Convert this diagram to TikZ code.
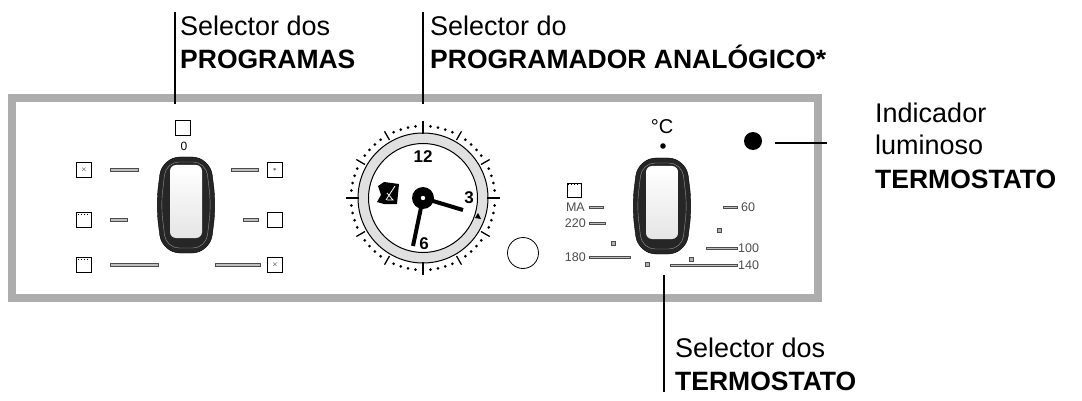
\documentclass[tikz,border=0pt]{standalone}
\usepackage{fontspec}
\setmainfont{Liberation Sans}
\usetikzlibrary{calc}
\begin{document}
\begin{tikzpicture}[x=1pt,y=-1pt,
  lbl/.style={anchor=base west,inner sep=0pt,font=\fontsize{27}{30}\selectfont},
  lblb/.style={lbl,font=\fontsize{26.5}{30}\selectfont\bfseries},
  lead/.style={line width=1.2pt},
  bar/.style={draw=black!70,fill=black!25,line width=0.6pt},
  ico/.style={draw=black,line width=0.8pt,minimum size=15pt,inner sep=0pt},
  sm/.style={font=\fontsize{12.5}{14}\selectfont,text=black!70,inner sep=1pt},
  sq/.style={draw=black!70,fill=black!30,minimum size=4pt,inner sep=0pt}]
\useasboundingbox (0,0) rectangle (1082,401);
% panel
\draw[line width=8pt,draw=black!32] (12,98) rectangle (818,298);
% ---------- left knob ----------
\filldraw[fill=black!85,draw=black,rounded corners=18pt] (162,157) -- (210,157) -- (216,205) -- (210,253) -- (162,253) -- (156,205) -- cycle;
\draw[white!60!black,rounded corners=13pt] (166,162) -- (206,162) -- (211,205) -- (206,248) -- (166,248) -- (161,205) -- cycle;
\shade[top color=white,bottom color=black!10,rounded corners=6pt] (170,165) rectangle (202,238);
\node[draw,minimum size=15pt,inner sep=0pt] (s0) at (183,128) {};
\node[font=\fontsize{12}{12}\selectfont] (z0) at (184,146) {0};
\node[ico] (i1) at (84,170) {\scriptsize$\times$};
\node[ico] (i2) at (84,220) {};
\node[ico] (i3) at (84,265) {};
\draw[dotted,line width=1pt] (78,214) -- (90,214) (78,259) -- (90,259);
\draw[bar] (110,168.5) rectangle (138,171.5);
\draw[bar] (110,218.5) rectangle (127,221.5);
\draw[bar] (110,263.5) rectangle (158,266.5);
\draw[bar] (231,168.5) rectangle (258,171.5);
\draw[bar] (243,218.5) rectangle (258,221.5);
\draw[bar] (215,263.5) rectangle (260,266.5);
\node[ico] (i4) at (275,170) {\scriptsize$\ast$};
\node[ico,line width=1.4pt] (i5) at (275,220) {};
\node[ico] (i6) at (275,265) {\scriptsize$\times$};
\coordinate (l1t) at (175,12); \coordinate (l1b) at (175,104);
\draw[lead] (l1t) -- (l1b);
\node[lbl] (t1a) at (180,36) {Selector dos};
\node[lblb] (t1b) at (180,69) {PROGRAMAS};
% ---------- clock ----------
\coordinate (c) at (423,198);
\filldraw[fill=black!12,draw=black,line width=1pt] (c) circle (65);
\filldraw[fill=white,draw=black,line width=1pt] (c) circle (54.5);
\foreach \a in {0,30,...,330} \draw[line width=1.3pt] ($(c)+(\a:67)$) -- ($(c)+(\a:77)$);
\draw[line width=1.3pt] ($(c)+(180:64)$) -- ($(c)+(180:77)$) ($(c)+(0:64)$) -- ($(c)+(0:77)$) ($(c)+(90:64)$) -- ($(c)+(90:77)$) ($(c)+(270:64)$) -- ($(c)+(270:77)$);
\foreach \a in {0,6,...,354} {\pgfmathsetmacro\m{mod(\a,30)}\ifdim\m pt=0pt\else\fill ($(c)+(\a:72)$) circle (1.5);\fi}
\node[font=\fontsize{17}{18}\selectfont\bfseries] (n12) at (423,157) {12};
\node[font=\fontsize{17}{18}\selectfont\bfseries] (n3) at (469,198) {3};
\node[font=\fontsize{17}{18}\selectfont\bfseries] (n6) at (424,244) {6};
\coordinate (h3) at (463,210); \coordinate (h6) at (413,246);
\draw[line width=4pt] (c) -- (h3);
\draw[line width=4pt] (c) -- (h6);
\fill (c) circle (11); \fill[white] (c) circle (2.2);
\fill (478,213) -- (481,219) -- (475,218) -- cycle;
\fill (378,186) -- (384,182) -- (399,184) -- (397,204) -- (384,204) -- (377,202) -- (381,195) -- cycle;
\draw[white,line width=0.8pt] (386,200) -- (395,186) (387,193) -- (393,200) -- (387,200);
\node[draw,circle,minimum size=31pt,inner sep=0pt,line width=0.8pt] (btn) at (523,253) {};
\coordinate (l2t) at (423,12); \coordinate (l2b) at (423,104);
\draw[lead] (l2t) -- (l2b);
\node[lbl] (t2a) at (430,36) {Selector do};
\node[lblb] (t2b) at (430,69) {PROGRAMADOR ANALÓGICO*};
% ---------- right knob ----------
\filldraw[fill=black!85,draw=black,rounded corners=18pt] (638,158) -- (686,158) -- (692,206) -- (686,254) -- (638,254) -- (632,206) -- cycle;
\draw[white!60!black,rounded corners=13pt] (642,163) -- (682,163) -- (687,206) -- (682,249) -- (642,249) -- (637,206) -- cycle;
\shade[top color=white,bottom color=black!10,rounded corners=6pt] (646,166) rectangle (678,239);
\node[font=\fontsize{20}{20}\selectfont] (deg) at (662,127) {°C};
\fill (663,146) circle (2.8);
\node[ico,minimum size=14pt,line width=0.6pt] (ov) at (574,190) {};
\draw[dotted,line width=1pt] (568,185) -- (580,185);
\node[sm,anchor=east] (ma) at (586,207) {MA};
\node[sm,anchor=east] (t220) at (587,223) {220};
\node[sm,anchor=east] (t180) at (587,257) {180};
\draw[bar] (589,206) rectangle (603,208);
\draw[bar] (589,222) rectangle (605,224);
\draw[bar] (589,256) rectangle (630,258);
\draw[bar] (723,206) rectangle (737,208);
\draw[bar] (706,247) rectangle (737,249);
\draw[bar] (670,264) rectangle (737,266);
\node[sm,anchor=west] (t60) at (740,207) {60};
\node[sm,anchor=west] (t100) at (737,248) {100};
\node[sm,anchor=west] (t140) at (737,265) {140};
\node[sq] (q1) at (613,243) {};
\node[sq] (q2) at (647,264) {};
\node[sq] (q3) at (719,230) {};
\node[sq] (q4) at (691,259) {};
\coordinate (l3t) at (664,275); \coordinate (l3b) at (664,392);
\draw[lead] (l3t) -- (l3b);
\node[lbl] (t3a) at (675,357) {Selector dos};
\node[lblb] (t3b) at (675,390) {TERMOSTATO};
% indicator
\node[circle,fill=black,minimum size=18pt,inner sep=0pt] (led) at (753,141) {};
\coordinate (l4a) at (775,143); \coordinate (l4b) at (827,143);
\draw[lead] (l4a) -- (l4b);
\node[lbl] (t4a) at (875,123) {Indicador};
\node[lbl] (t4b) at (875,155) {luminoso};
\node[lblb] (t4c) at (875,189) {TERMOSTATO};
\end{tikzpicture}
\end{document}
